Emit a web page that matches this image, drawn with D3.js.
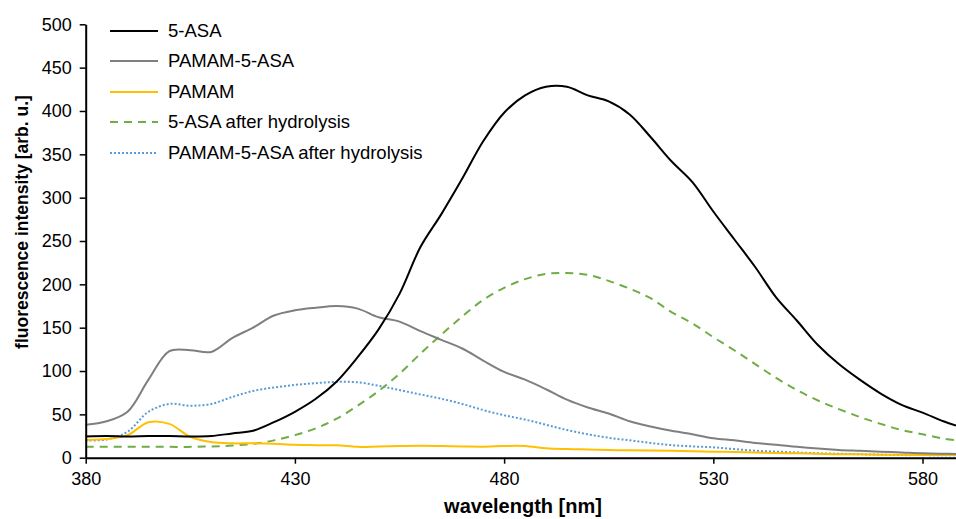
<!DOCTYPE html>
<html>
<head>
<meta charset="utf-8">
<script src="https://cdn.jsdelivr.net/npm/d3@7"></script>
<style>
  html, body { margin: 0; padding: 0; background: #fff; }
  svg { display: block; font-family: "Liberation Sans", Arial, sans-serif; }
</style>
</head>
<body>
<svg id="chart" width="956" height="519"></svg>
<script>
const wavelengths = [380,385,390,395,400,405,410,415,420,425,430,435,440,445,450,455,460,465,470,475,480,485,490,495,500,505,510,515,520,525,530,535,540,545,550,555,560,565,570,575,580,585,588];

const asa = [24.5,25,24.5,25,25,24.5,25,28,31,41,53,68,88,116,148,189,243,281,322,365,398,418,428,428,418,411,396,370,342,318,284,252,220,185,158,130,108,90,74,61,52,42,37];
const pamamAsa = [38,42,53,90,123,124,122,138,150,164,170,173,175,172,162,157,146,136,126,112,99,90,79,67,58,51,42,36,31,27,22.5,20,17,15,12.5,10.5,9,8,7,6,5,4.5,4.3];
const pamam = [20.5,21.5,26,41,39,24,18,16.6,16.6,16,14.8,14.5,14.3,12.5,13,13.5,13.8,13.5,13,12.7,13.5,13.5,11,10,9.5,9,8.5,8.3,8,7.5,7,6.5,6,5.5,5,4.5,4,4,3.5,3.3,3.2,3.1,3];
const asaHydro = [12.5,12.5,12.5,12.5,12.5,12.5,13,14,16,20,26,34,45,60,77,97,120,142,163,182,196,206,212,213,211,204,195,184,168,155,139,124,108,92,78,66,56,47,39,32,27,22,20];
const pamamAsaHydro = [20,21,30,53,62,60,62,70,77,81,84,86,87.5,87,83,78,73,68,62,55,49,44,38,32,27,23,20,17,14.5,13,12,10,8,7,6,5,4.5,4,3.5,3,3,2.8,2.7];

const seriesNames = ["5-ASA","PAMAM-5-ASA","PAMAM","5-ASA after hydrolysis","PAMAM-5-ASA after hydrolysis"];
const seriesValues = [asa, pamamAsa, pamam, asaHydro, pamamAsaHydro];
const seriesColors = ["#000000","#7f7f7f","#ffc000","#70ad47","#5b9bd5"];
const seriesDash = [null, null, null, "8,6", "2,2"];

const xTicks = [380,430,480,530,580];
const yTicks = [0,50,100,150,200,250,300,350,400,450,500];

const svg = d3.select("#chart");
const x = d3.scaleLinear().domain([380, 588]).range([85.7, 956]);
const y = d3.scaleLinear().domain([0, 500]).range([457.7, 24.3]);

// curves
const line = d3.line()
  .x((d, i) => x(wavelengths[i]))
  .y(d => y(d))
  .curve(d3.curveCatmullRom.alpha(0.5));

const drawOrder = [4, 3, 2, 1, 0];
drawOrder.forEach(k => {
  svg.append("path")
    .attr("d", line(seriesValues[k]))
    .attr("fill", "none")
    .attr("stroke", seriesColors[k])
    .attr("stroke-width", 2)
    .attr("stroke-dasharray", seriesDash[k])
    .attr("stroke-linejoin", "round");
});

// axes
const yAxis = d3.axisLeft(y).tickValues(yTicks).tickSize(6).tickSizeOuter(0).tickPadding(8);
const gy = svg.append("g").attr("transform", `translate(${x.range()[0]},0)`).call(yAxis);
const xAxis = d3.axisBottom(x).tickValues(xTicks).tickSize(6).tickSizeOuter(0).tickPadding(9);
const gx = svg.append("g").attr("transform", `translate(0,${y(0)})`).call(xAxis);
[gx, gy].forEach(g => {
  g.select(".domain").attr("stroke", "#000").attr("stroke-width", 2);
  g.selectAll(".tick line").attr("stroke", "#000").attr("stroke-width", 1.5);
  g.selectAll(".tick text").attr("font-size", 18).attr("fill", "#000")
    .attr("font-family", "'Liberation Sans', Arial, sans-serif");
});

// axis titles
svg.append("text")
  .attr("x", 523).attr("y", 513)
  .attr("text-anchor", "middle")
  .attr("font-size", 20).attr("font-weight", "bold")
  .text("wavelength [nm]");

svg.append("text")
  .attr("transform", "translate(28,222) rotate(-90)")
  .attr("text-anchor", "middle")
  .attr("font-size", 17.5).attr("font-weight", "bold")
  .text("fluorescence intensity [arb. u.]");

// legend
const legendY = [31, 61, 92, 122, 153];
seriesNames.forEach((name, k) => {
  const g = svg.append("g").attr("transform", `translate(0,${legendY[k]})`);
  g.append("line")
    .attr("x1", 110).attr("x2", 158).attr("y1", 0).attr("y2", 0)
    .attr("stroke", seriesColors[k]).attr("stroke-width", 2)
    .attr("stroke-dasharray", seriesDash[k]);
  g.append("text")
    .attr("x", 168).attr("y", 0).attr("dy", "0.35em")
    .attr("font-size", 18.5).attr("fill", "#000")
    .text(name);
});
</script>
</body>
</html>
